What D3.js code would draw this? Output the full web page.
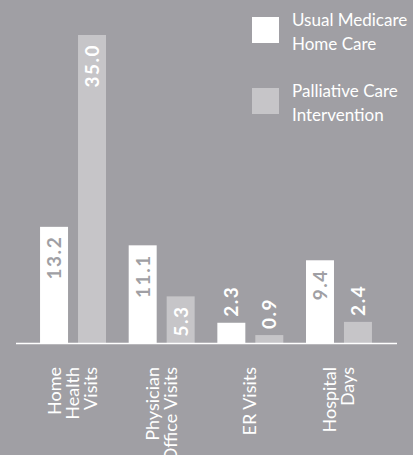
<!DOCTYPE html>
<html>
<head>
<meta charset="utf-8">
<script src="https://cdn.jsdelivr.net/npm/d3@7"></script>
<style>
  html, body { margin: 0; padding: 0; background: #a09fa4; }
  svg { display: block; }
</style>
</head>
<body>
<svg id="chart" width="413" height="455"></svg>
<script>
const categories = [
  ["Home", "Health", "Visits"],
  ["Physician", "Office Visits"],
  ["ER Visits"],
  ["Hospital", "Days"]
];
const seriesNames = [["Usual Medicare", "Home Care"], ["Palliative Care", "Intervention"]];
const usualCare = [13.2, 11.1, 2.3, 9.4];
const palliative = [35.0, 5.3, 0.9, 2.4];

const BG = "#a09fa4", WHITE = "#ffffff", GREY = "#c6c5c8";
const colors = [WHITE, GREY];
const labelColorsInside = [BG, WHITE];

const svg = d3.select("#chart");
svg.append("rect").attr("width", 413).attr("height", 455).attr("fill", BG);

const catKeys = categories.map((c, i) => i);
const x0 = d3.scaleBand().domain(catKeys).range([28.7, 383.3]).paddingInner(0.256).paddingOuter(0.128);
const x1 = d3.scaleBand().domain([0, 1]).range([0, x0.bandwidth()]).paddingInner(0.263).paddingOuter(0);
const y = d3.scaleLinear().domain([0, 35]).range([343, 35]);

const data = catKeys.map(i => [usualCare[i], palliative[i]]);

const groups = svg.selectAll("g.grp").data(data).join("g")
  .attr("class", "grp")
  .attr("transform", (d, i) => `translate(${x0(i)},0)`);

groups.selectAll("rect").data(d => d.map((v, s) => ({v, s}))).join("rect")
  .attr("x", d => x1(d.s))
  .attr("width", x1.bandwidth())
  .attr("y", d => y(d.v))
  .attr("height", d => y(0) - y(d.v))
  .attr("fill", d => colors[d.s]);

groups.selectAll("text.val").data(d => d.map((v, s) => ({v, s}))).join("text")
  .attr("class", "val")
  .attr("transform", d => {
    const cx = x1(d.s) + x1.bandwidth() / 2;
    const inside = d.v >= 5;
    const yy = inside ? y(d.v) + 9 : y(d.v) - 6;
    return `translate(${cx},${yy}) rotate(-90)`;
  })
  .attr("text-anchor", d => d.v >= 5 ? "end" : "start")
  .attr("dy", "0.36em")
  .attr("fill", d => d.v >= 5 ? labelColorsInside[d.s] : WHITE)
  .style("font-family", "Lato, sans-serif")
  .style("font-weight", "bold")
  .style("font-size", "19px")
  .style("letter-spacing", "1.5px")
  .text(d => d.v.toFixed(1));

// axis baseline
const xAxis = d3.axisBottom(x0).tickSize(0).tickFormat("");
const axisG = svg.append("g").attr("transform", `translate(0,${y(0)})`).call(xAxis);
axisG.select(".domain").remove();
axisG.append("line").attr("x1", 16).attr("x2", 397).attr("y1", 0.5).attr("y2", 0.5)
  .attr("stroke", WHITE).attr("stroke-width", 1.5);

// category labels
const lineH = 18;
svg.selectAll("g.cat").data(categories).join("g")
  .attr("class", "cat")
  .each(function(lines, i) {
    const cx = x0(i) + x0.bandwidth() / 2 - 0.5;
    const n = lines.length;
    lines.forEach((ln, k) => {
      const off = (k - (n - 1) / 2) * lineH;
      d3.select(this).append("text")
        .attr("transform", `translate(${cx + off},367) rotate(-90)`)
        .attr("text-anchor", "end")
        .attr("dy", "0.36em")
        .attr("fill", WHITE)
        .style("font-family", "Lato, sans-serif")
        .style("font-size", "18px")
        .text(ln);
    });
  });

// legend
const legY = [17, 88];
const legend = svg.selectAll("g.leg").data(seriesNames).join("g")
  .attr("class", "leg")
  .attr("transform", (d, i) => `translate(252,${legY[i]})`);
legend.append("rect").attr("width", 27).attr("height", 26).attr("fill", (d, i) => colors[i]);
legend.each(function(lines) {
  lines.forEach((ln, k) => {
    d3.select(this).append("text")
      .attr("x", 40).attr("y", 9 + k * 23.7)
      .attr("fill", WHITE)
      .style("font-family", "Lato, sans-serif")
      .style("font-size", "17px")
      .text(ln);
  });
});
</script>
</body>
</html>
